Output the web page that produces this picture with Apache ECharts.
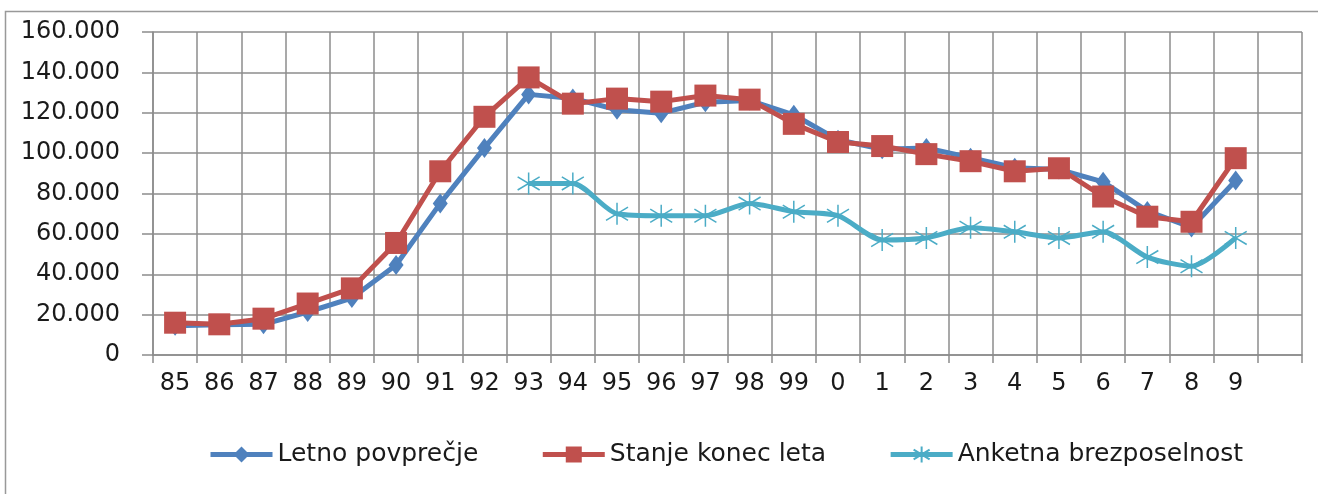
<!DOCTYPE html>
<html>
<head>
    <meta charset="utf-8" />
    <title>Brezposelnost</title>
    <script src="https://cdn.jsdelivr.net/npm/echarts@6/dist/echarts.min.js"></script>
</head>
<body style="margin:0;padding:0;background:#fff">
    <div id="chart" style="width:1318px;height:494px;margin:0;padding:0"></div>
    <script type="text/javascript">
        // leta (zadnje mesto ostane prazno)
        var years = ['85', '86', '87', '88', '89', '90', '91', '92', '93', '94', '95', '96', '97', '98', '99',
            '0', '1', '2', '3', '4', '5', '6', '7', '8', '9', ''];
        var letnoPovprecje = [14500, 15000, 15200, 21300, 28200, 44600, 75100, 102600, 129100, 127100, 121500, 119800,
            125200, 126100, 119000, 106600, 101900, 102600, 97700, 92800, 91900, 85800, 71300, 63200, 86400];
        var stanjeKonecLeta = [16000, 15200, 18000, 25500, 33000, 55500, 91000, 118000, 137500, 124500, 127000, 125500,
            128500, 126500, 114500, 105500, 103500, 99500, 96000, 91000, 92500, 78500, 68500, 66000, 97500];
        var anketna = [null, null, null, null, null, null, null, null, 85000, 85000, 70000, 69000,
            69000, 75000, 71000, 69000, 57000, 58000, 63000, 61000, 58000, 61000, 48500, 44000, 58000];
        var yTicks = [0, 20000, 40000, 60000, 80000, 100000, 120000, 140000, 160000];

        var chart = echarts.init(document.getElementById('chart'));
        var gridColor = '#8c8c8c';
        var txt = { fontFamily: 'DejaVu Sans', fontSize: 24, color: '#1a1a1a' };

        chart.setOption({
            animation: false,
            graphic: [{
                type: 'rect',
                shape: { x: 5.5, y: 11.5, width: 1330, height: 500 },
                style: { fill: 'none', stroke: '#999', lineWidth: 1.5 },
                z: -10
            }],
            grid: { left: 153, right: 16, top: 32, bottom: 139 },
            legend: {
                left: 203,
                top: 437,
                itemWidth: 62,
                itemHeight: 20,
                itemGap: 62,
                lineStyle: { width: 5 },
                textStyle: { fontFamily: 'DejaVu Sans', fontSize: 25, color: '#1a1a1a' },
                data: ['Letno povprečje', 'Stanje konec leta', 'Anketna brezposelnost']
            },
            xAxis: {
                type: 'category',
                data: years,
                boundaryGap: true,
                axisLine: { show: true, lineStyle: { color: gridColor, width: 1.5 } },
                axisTick: { show: true, length: 8, lineStyle: { color: gridColor, width: 1.5 } },
                splitLine: { show: true, lineStyle: { color: gridColor, width: 1.5 } },
                axisLabel: Object.assign({ margin: 17 }, txt)
            },
            yAxis: {
                type: 'value',
                min: yTicks[0],
                max: yTicks[yTicks.length - 1],
                interval: 20000,
                axisLine: { show: true, lineStyle: { color: gridColor, width: 1.5 } },
                axisTick: { show: true, length: 11, lineStyle: { color: gridColor, width: 1.5 } },
                splitLine: { show: true, lineStyle: { color: gridColor, width: 1.5 } },
                axisLabel: Object.assign({
                    margin: 33,
                    formatter: function (v) {
                        return v === 0 ? '0' : (v / 1000) + '.000';
                    }
                }, txt)
            },
            series: [{
                name: 'Letno povprečje',
                type: 'line',
                data: letnoPovprecje,
                symbol: 'diamond',
                symbolSize: [15, 20],
                color: '#4f81bd',
                lineStyle: { width: 5, color: '#4f81bd' },
                itemStyle: { color: '#4f81bd' }
            }, {
                name: 'Stanje konec leta',
                type: 'line',
                data: stanjeKonecLeta,
                symbol: 'rect',
                symbolSize: 22,
                color: '#c0504d',
                lineStyle: { width: 5, color: '#c0504d' },
                itemStyle: { color: '#c0504d' }
            }, {
                name: 'Anketna brezposelnost',
                type: 'line',
                data: anketna,
                smooth: 0.25,
                symbol: 'path://M10,0L10,20M1,4L19,16M1,16L19,4',
                symbolSize: 22,
                color: '#4bacc6',
                lineStyle: { width: 5, color: '#4bacc6' },
                itemStyle: { color: 'rgba(0,0,0,0)', borderColor: '#4bacc6', borderWidth: 1.5 }
            }]
        });
    </script>
</body>
</html>
